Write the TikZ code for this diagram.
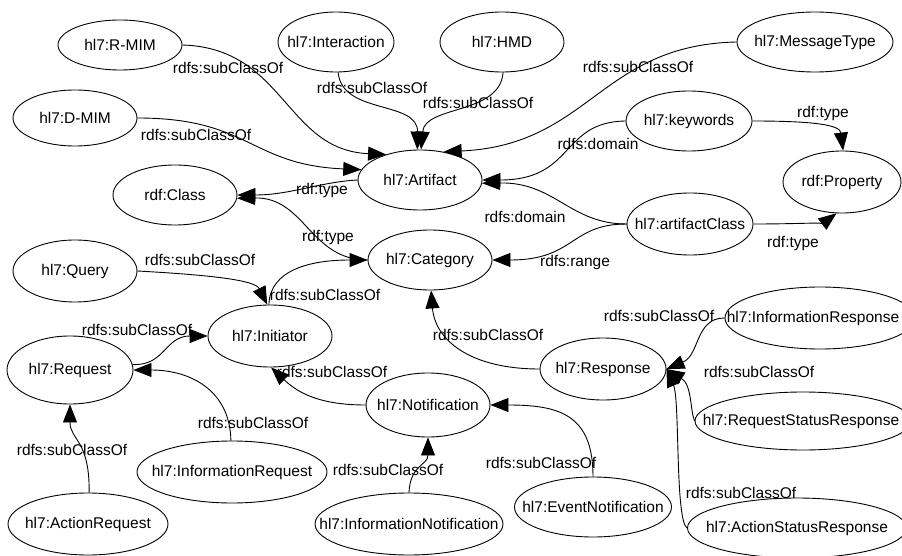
\documentclass[tikz,border=0pt]{standalone}
\usepackage{fontspec}
\setmainfont{Liberation Sans}
\usetikzlibrary{shapes.geometric,arrows.meta}
\newcommand{\zw}[1]{\makebox[0pt][c]{#1}}
\tikzset{
  ell/.style={ellipse,draw,line width=0.9pt,inner sep=0pt,font=\fontsize{15.5}{18}\selectfont},
  rel/.style={draw,line width=0.9pt,-{Triangle[length=18pt,width=14pt]}},
  lab/.style={inner sep=0pt,font=\fontsize{15.5}{18}\selectfont}
}
\begin{document}
\begin{tikzpicture}[x=1pt,y=-1pt]
\useasboundingbox (0,0) rectangle (902,556);
\clip (0,0) rectangle (902,556);
\fill[white] (0,0) rectangle (902,556);
% nodes
\node[ell,minimum width=124pt,minimum height=50pt] (rmim) at (120,45) {\zw{hl7:R-MIM}};
\node[ell,minimum width=116pt,minimum height=60pt] (interaction) at (336,42) {\zw{hl7:Interaction}};
\node[ell,minimum width=124pt,minimum height=60pt] (hmd) at (502,42) {\zw{hl7:HMD}};
\node[ell,minimum width=156pt,minimum height=60pt] (msgtype) at (815,42) {\zw{hl7:MessageType}};
\node[ell,minimum width=124pt,minimum height=56pt] (dmim) at (75,118) {\zw{hl7:D-MIM}};
\node[ell,minimum width=126pt,minimum height=60pt] (keywords) at (689,121) {\zw{hl7:keywords}};
\node[ell,minimum width=124pt,minimum height=60pt] (artifact) at (420,180) {\zw{hl7:Artifact}};
\node[ell,minimum width=124pt,minimum height=60pt] (rdfclass) at (175,195) {\zw{rdf:Class}};
\node[ell,minimum width=118pt,minimum height=62pt] (property) at (842,182) {\zw{rdf:Property}};
\node[ell,minimum width=126pt,minimum height=62pt] (artifactclass) at (690,224) {\zw{hl7:artifactClass}};
\node[ell,minimum width=124pt,minimum height=60pt] (category) at (430,260) {\zw{hl7:Category}};
\node[ell,minimum width=124pt,minimum height=62pt] (query) at (75,271) {\zw{hl7:Query}};
\node[ell,minimum width=124pt,minimum height=62pt] (initiator) at (270,336) {\zw{hl7:Initiator}};
\node[ell,minimum width=126pt,minimum height=68pt] (request) at (70,370) {\zw{hl7:Request}};
\node[ell,minimum width=190pt,minimum height=62pt] (inforesponse) at (820,318) {\zw{\hspace*{-14pt}hl7:InformationResponse}};
\node[ell,minimum width=126pt,minimum height=62pt] (response) at (603,369) {\zw{hl7:Response}};
\node[ell,minimum width=216pt,minimum height=58pt] (rsr) at (803,421) {\zw{\hspace*{-4pt}hl7:RequestStatusResponse}};
\node[ell,minimum width=219pt,minimum height=60pt] (asr) at (797,528) {\zw{hl7:ActionStatusResponse}};
\node[ell,minimum width=124pt,minimum height=64pt] (notification) at (428,405) {\zw{hl7:Notification}};
\node[ell,minimum width=190pt,minimum height=62pt] (inforequest) at (232,472) {\zw{hl7:InformationRequest}};
\node[ell,minimum width=160pt,minimum height=62pt] (actionrequest) at (88,524) {\zw{hl7:ActionRequest}};
\node[ell,minimum width=188pt,minimum height=62pt] (infonotif) at (409,524) {\zw{hl7:InformationNotification}};
\node[ell,minimum width=157pt,minimum height=60pt] (eventnotif) at (593,507) {\zw{hl7:EventNotification}};
% connectors
\path[rel] (rmim.east) .. controls (285,48) and (285,150) .. (artifact.143);
\path[rel] (interaction.-86) .. controls (342,115) and (418,100) .. (artifact.95);
\path[rel] (hmd.-88) .. controls (500,115) and (425,105) .. (artifact.88);
\path[rel] (msgtype.west) .. controls (600,45) and (590,145) .. (artifact.50);
\path[rel] (dmim.east) .. controls (250,118) and (250,165) .. (artifact.170);
\path[rel] (keywords.west) .. controls (560,122) and (575,180) .. (artifact.0);
\path[rel] (keywords.east) .. controls (815,121) and (840,125) .. (property.88);
\path[rel] (artifactclass.east) .. controls (800,224) and (825,222) .. (property.-100);
\path[rel] (artifactclass.west) .. controls (570,224) and (555,182) .. (artifact.-3);
\path[rel] (artifactclass.west) .. controls (570,224) and (575,260) .. (category.0);
\path[rel] (artifact.180) .. controls (320,182) and (290,195) .. (rdfclass.0);
\path[rel] (category.180) .. controls (310,260) and (305,197) .. (rdfclass.-3);
\path[rel] (query.east) .. controls (210,275) and (255,280) .. (initiator.95);
\path[rel] (initiator.92) .. controls (270,270) and (310,260) .. (category.180);
\path[rel] (request.5) .. controls (165,366) and (165,336) .. (initiator.180);
\path[rel] (inforequest.92) .. controls (230,390) and (190,370) .. (request.0);
\path[rel] (actionrequest.88) .. controls (90,440) and (70,440) .. (request.-90);
\path[rel] (notification.180) .. controls (315,405) and (295,390) .. (initiator.-88);
\path[rel] (infonotif.90) .. controls (410,465) and (428,465) .. (notification.-90);
\path[rel] (eventnotif.90) .. controls (593,415) and (560,405) .. (notification.0);
\path[rel] (response.180) .. controls (470,369) and (435,340) .. (category.-88);
\path[rel] (inforesponse.180) .. controls (695,318) and (700,355) .. (response.0);
\path[rel] (rsr.180) .. controls (690,410) and (692,385) .. (response.0);
\path[rel] (asr.180) .. controls (675,520) and (680,400) .. (response.0);
% labels
\node[lab] (l1) at (228,68) {rdfs:subClassOf};
\node[lab] (l2) at (372,88) {rdfs:subClassOf};
\node[lab] (l3) at (478,103) {rdfs:subClassOf};
\node[lab] (l4) at (638,67) {rdfs:subClassOf};
\node[lab] (l5) at (196,135) {rdfs:subClassOf};
\node[lab] (l6) at (598,144) {rdfs:domain};
\node[lab] (l7) at (823,113) {rdf:type};
\node[lab] (l8) at (525,217) {rdfs:domain};
\node[lab] (l9) at (575,262) {rdfs:range};
\node[lab] (l10) at (793,243) {rdf:type};
\node[lab] (l11) at (322,190) {rdf:type};
\node[lab] (l12) at (328,237) {rdf:type};
\node[lab] (l13) at (200,260) {rdfs:subClassOf};
\node[lab] (l14) at (325,295) {rdfs:subClassOf};
\node[lab] (l15) at (137,330) {rdfs:subClassOf};
\node[lab] (l16) at (332,372) {rdfs:subClassOf};
\node[lab] (l17) at (253,423) {rdfs:subClassOf};
\node[lab] (l18) at (72,450) {rdfs:subClassOf};
\node[lab] (l19) at (388,470) {rdfs:subClassOf};
\node[lab] (l20) at (541,463) {rdfs:subClassOf};
\node[lab] (l21) at (488,335) {rdfs:subClassOf};
\node[lab] (l22) at (659,316) {rdfs:subClassOf};
\node[lab] (l23) at (759,372) {rdfs:subClassOf};
\node[lab] (l24) at (741,493) {rdfs:subClassOf};
\end{tikzpicture}
\end{document}
